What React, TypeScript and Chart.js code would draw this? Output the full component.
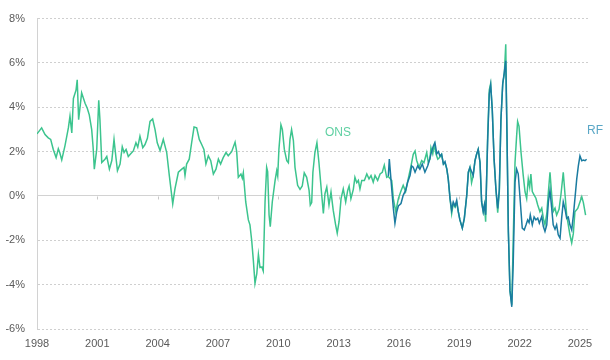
import React, { useEffect, useRef } from "react";
import { Chart, registerables } from "chart.js";

Chart.register(...registerables);

// ---- data ----
const tickYears = [1998, 2001, 2004, 2007, 2010, 2013, 2016, 2019, 2022, 2025];
const yTicks = [-6, -4, -2, 0, 2, 4, 6, 8];

const onsYears = [
  1998.0, 1998.23, 1998.4, 1998.56, 1998.68, 1998.81, 1998.95, 1999.06, 1999.13, 1999.23,
  1999.39, 1999.56, 1999.64, 1999.73, 1999.81, 1999.94, 2000.0, 2000.07, 2000.22, 2000.39,
  2000.5, 2000.6, 2000.72, 2000.79, 2000.85, 2000.97, 2001.07, 2001.13, 2001.22, 2001.38,
  2001.47, 2001.6, 2001.72, 2001.83, 2001.93, 2002.0, 2002.13, 2002.24, 2002.33, 2002.43,
  2002.54, 2002.66, 2002.79, 2002.92, 2003.01, 2003.12, 2003.26, 2003.37, 2003.49, 2003.62,
  2003.75, 2003.87, 2003.98, 2004.12, 2004.28, 2004.45, 2004.58, 2004.75, 2004.86, 2005.03,
  2005.2, 2005.31, 2005.36, 2005.44, 2005.57, 2005.69, 2005.81, 2005.94, 2006.07, 2006.19,
  2006.3, 2006.4, 2006.52, 2006.64, 2006.77, 2006.9, 2007.02, 2007.13, 2007.26, 2007.4,
  2007.51, 2007.68, 2007.85, 2007.93, 2008.01, 2008.14, 2008.21, 2008.26, 2008.38, 2008.51,
  2008.59, 2008.68, 2008.76, 2008.84, 2008.93, 2009.01, 2009.09, 2009.18, 2009.25, 2009.34,
  2009.42, 2009.47, 2009.54, 2009.6, 2009.7, 2009.84, 2009.92, 2009.97, 2010.03, 2010.13,
  2010.2, 2010.3, 2010.42, 2010.5, 2010.58, 2010.66, 2010.75, 2010.83, 2010.96, 2011.08,
  2011.19, 2011.29, 2011.41, 2011.53, 2011.59, 2011.66, 2011.72, 2011.82, 2011.92, 2012.02,
  2012.16, 2012.24, 2012.32, 2012.41, 2012.52, 2012.62, 2012.73, 2012.85, 2012.93, 2013.02,
  2013.12, 2013.23, 2013.35, 2013.45, 2013.52, 2013.61, 2013.73, 2013.81, 2013.9, 2013.98,
  2014.06, 2014.15, 2014.28, 2014.4, 2014.51, 2014.61, 2014.72, 2014.81, 2014.94, 2015.06,
  2015.17, 2015.27, 2015.39, 2015.47, 2015.64, 2015.72, 2015.84, 2015.97, 2016.09, 2016.21,
  2016.33, 2016.46, 2016.6, 2016.71, 2016.8, 2016.88, 2017.0, 2017.13, 2017.24, 2017.38,
  2017.46, 2017.54, 2017.59, 2017.68, 2017.76, 2017.84, 2017.93, 2018.03, 2018.12, 2018.21,
  2018.29, 2018.38, 2018.45, 2018.54, 2018.62, 2018.7, 2018.79, 2018.87, 2018.95, 2019.03,
  2019.15, 2019.25, 2019.37, 2019.45, 2019.53, 2019.61, 2019.69, 2019.78, 2019.86, 2019.94,
  2020.03, 2020.11, 2020.19, 2020.25, 2020.31, 2020.41, 2020.49, 2020.56, 2020.64, 2020.73,
  2020.82, 2020.91, 2020.99, 2021.07, 2021.16, 2021.24, 2021.31, 2021.37, 2021.44, 2021.52,
  2021.61, 2021.68, 2021.77, 2021.85, 2021.9, 2021.97, 2022.07, 2022.18, 2022.27, 2022.35,
  2022.43, 2022.5, 2022.56, 2022.63, 2022.73, 2022.81, 2022.9, 2023.01, 2023.1, 2023.18,
  2023.26, 2023.35, 2023.43, 2023.51, 2023.59, 2023.67, 2023.76, 2023.84, 2023.96, 2024.06,
  2024.17, 2024.26, 2024.34, 2024.42, 2024.5, 2024.59, 2024.67, 2024.75, 2024.89, 2025.0,
  2025.09, 2025.17, 2025.28,
];
const onsValues = [
  2.8, 3.07, 2.77, 2.62, 2.55, 2.1, 1.73, 2.13, 1.96, 1.63,
  2.26, 3.07, 3.6, 2.84, 4.4, 4.77, 5.24, 3.44, 4.65, 4.18,
  3.96, 3.66, 2.99, 2.2, 1.21, 2.1, 4.32, 3.44, 1.51, 1.66,
  1.78, 1.21, 1.6, 2.55, 1.7, 1.14, 1.44, 2.22, 1.96, 2.1,
  1.78, 1.9, 2.03, 2.4, 2.2, 2.7, 2.18, 2.32, 2.6, 3.36,
  3.47, 2.99, 2.4, 2.05, 2.55, 1.96, 0.92, -0.36, 0.32, 1.07,
  1.21, 1.29, 0.92, 1.44, 1.66, 2.4, 3.11, 3.07, 2.55, 2.32,
  2.1, 1.44, 1.81, 1.59, 0.99, 1.21, 1.66, 1.44, 1.73, 1.96,
  1.81, 2.0, 2.43, 2.0, 0.84, 0.99, 0.8, 1.04, -0.27, -1.08,
  -1.3, -2.04, -2.93, -3.94, -3.5, -2.64, -3.23, -3.2, -3.38, -0.27,
  1.29, 1.1, -0.86, -1.38, -0.27, 0.7, 1.14, 0.9, 2.1, 3.21,
  3.0, 2.1, 1.59, 1.5, 2.55, 2.99, 2.5, 1.29, 0.48, 0.3,
  0.45, 1.04, 0.84, 0.25, -0.41, -0.3, 1.07, 1.96, 2.4, 1.51,
  0.03, -0.79, 0.1, 0.4, -0.41, 0.18, -0.64, -1.3, -1.68, -1.16,
  -0.12, 0.32, -0.27, 0.25, 0.45, -0.12, 0.3, 0.84, 0.6, 0.7,
  0.32, 0.7, 0.7, 0.99, 0.77, 0.92, 0.62, 0.92, 0.7, 0.99,
  1.07, 1.39, 0.84, 0.88, 0.7, -0.12, -0.71, -0.12, 0.2, 0.48,
  0.2, 0.77, 1.36, 1.88, 2.03, 1.6, 1.29, 1.6, 1.5, 1.96,
  1.5, 1.66, 2.18, 1.9, 2.32, 1.9, 1.66, 1.75, 1.88, 1.44,
  1.5, 1.21, 0.77, -0.12, -0.8, -0.35, -0.5, -0.3, -0.71, -1.08,
  -1.45, -1.01, 0.03, 1.07, 1.29, 0.6, 0.92, 1.59, 1.88, 2.1,
  1.51, -0.27, -0.71, -0.4, -1.16, 2.7, 4.77, 5.07, 3.88, 1.66,
  0.32, -0.75, 0.2, 3.44, 5.07, 5.51, 6.84, 2.84, -1.6, -4.27,
  -4.9, -2.0, 1.5, 2.7, 3.36, 3.14, 1.96, 0.92, 0.18, -0.12,
  0.77, 0.4, 0.99, 0.2, 0.03, -0.1, -0.41, -0.71, -0.55, -1.01,
  -1.3, -0.8, 0.18, 1.07, 0.1, -0.71, -0.55, -0.86, -0.6, 0.1,
  1.07, 0.03, -0.86, -1.3, -1.75, -2.12, -1.7, -0.71, -0.56, -0.27,
  -0.04, -0.3, -0.86,
];

const rfYears = [
  2015.47, 2015.52, 2015.64, 2015.72, 2015.8, 2015.89, 2015.97, 2016.1, 2016.21, 2016.33,
  2016.43, 2016.55, 2016.63, 2016.71, 2016.8, 2016.93, 2017.04, 2017.16, 2017.29, 2017.43,
  2017.54, 2017.59, 2017.71, 2017.79, 2017.88, 2017.96, 2018.04, 2018.12, 2018.21, 2018.29,
  2018.38, 2018.45, 2018.54, 2018.62, 2018.7, 2018.79, 2018.87, 2018.95, 2019.03, 2019.15,
  2019.25, 2019.37, 2019.45, 2019.53, 2019.61, 2019.69, 2019.78, 2019.86, 2019.94, 2020.03,
  2020.11, 2020.19, 2020.25, 2020.31, 2020.41, 2020.49, 2020.56, 2020.64, 2020.73, 2020.82,
  2020.91, 2020.99, 2021.07, 2021.16, 2021.24, 2021.31, 2021.37, 2021.44, 2021.52, 2021.61,
  2021.68, 2021.77, 2021.85, 2021.93, 2022.01, 2022.13, 2022.23, 2022.32, 2022.4, 2022.47,
  2022.53, 2022.63, 2022.72, 2022.81, 2022.9, 2022.98, 2023.1, 2023.18, 2023.26, 2023.35,
  2023.43, 2023.51, 2023.59, 2023.67, 2023.76, 2023.84, 2023.92, 2024.01, 2024.09, 2024.17,
  2024.26, 2024.34, 2024.42, 2024.5, 2024.59, 2024.67, 2024.75, 2024.84, 2024.92, 2025.0,
  2025.09, 2025.17, 2025.25, 2025.33,
];
const rfValues = [
  0.9, 1.66, 0.32, -0.56, -1.23, -0.71, -0.45, -0.34, 0.03, 0.25,
  0.62, 0.92, 1.36, 1.3, 1.07, 1.36, 1.21, 1.44, 1.07, 1.36,
  1.7, 1.9, 2.25, 2.4, 1.9, 2.0, 1.8, 1.88, 1.44, 1.55,
  1.21, 0.77, -0.12, -0.64, -0.27, -0.45, -0.19, -0.71, -1.08, -1.45,
  -1.01, 0.03, 1.07, 1.29, 1.1, 0.92, 1.59, 1.88, 2.1, 1.51,
  -0.27, -0.71, -0.4, -0.85, 2.5, 4.6, 5.0, 3.88, 1.66, 0.32,
  -0.56, 0.3, 3.44, 5.07, 5.6, 6.1, 2.84, -1.6, -4.27, -5.0,
  -3.08, 0.62, 1.21, 1.0, 0.03, -1.45, -1.53, -1.3, -1.08, -1.2,
  -0.86, -1.3, -0.95, -1.08, -1.0, -1.23, -0.93, -1.38, -1.6, -1.3,
  -0.27, 0.25, -0.5, -1.3, -1.5, -1.3, -1.75, -1.9, -1.0, -0.27,
  -0.6, -1.01, -0.95, -1.3, -1.53, -0.9, -0.12, 0.77, 1.36, 1.81,
  1.59, 1.62, 1.59, 1.66,
];

const seriesNames = ["ONS", "RF"];
const lineColors = ["#3cc48e", "#1a7ba0"];
const labelColors = ["#5fd0a2", "#5aa7c6"];
const labelAnchors = [
  { year: 2012.32, value: 2.84, align: "left" },
  { year: 2025.35, value: 2.93, align: "left" },
];

const FONT = "'Liberation Sans', Arial, sans-serif";

export default function App() {
  const ref = useRef<HTMLCanvasElement | null>(null);

  useEffect(() => {
    if (!ref.current) return;

    const overlay = {
      id: "overlay",
      beforeDatasetsDraw(chart: any) {
        const { ctx, scales } = chart;
        const x = scales.x;
        const y = scales.y;
        const y0 = Math.round(y.getPixelForValue(0)) + 0.5;
        ctx.save();
        ctx.strokeStyle = "#c8c8c8";
        ctx.lineWidth = 1;
        tickYears.forEach((t) => {
          const px = Math.round(x.getPixelForValue(t)) + 0.5;
          ctx.beginPath();
          ctx.moveTo(px, y0);
          ctx.lineTo(px, y0 + 3);
          ctx.stroke();
        });
        ctx.restore();
      },
      afterDatasetsDraw(chart: any) {
        const { ctx, scales } = chart;
        const x = scales.x;
        const y = scales.y;
        ctx.save();
        ctx.font = `12px ${FONT}`;
        ctx.textBaseline = "middle";
        seriesNames.forEach((name, i) => {
          const a = labelAnchors[i];
          ctx.fillStyle = labelColors[i];
          ctx.textAlign = a.align as CanvasTextAlign;
          ctx.fillText(name, x.getPixelForValue(a.year), y.getPixelForValue(a.value));
        });
        ctx.restore();
      },
    };

    const chart = new Chart(ref.current, {
      type: "line",
      data: {
        datasets: [
          {
            label: seriesNames[0],
            data: onsYears.map((yr, i) => ({ x: yr, y: onsValues[i] })),
            borderColor: lineColors[0],
            borderWidth: 1.5,
            pointRadius: 0,
            tension: 0,
            order: 1,
          },
          {
            label: seriesNames[1],
            data: rfYears.map((yr, i) => ({ x: yr, y: rfValues[i] })),
            borderColor: lineColors[1],
            borderWidth: 1.5,
            pointRadius: 0,
            tension: 0,
            order: 0,
          },
        ],
      },
      options: {
        responsive: false,
        animation: false,
        parsing: true,
        layout: { padding: { top: 6.4, right: 22, left: 0, bottom: 0 } },
        plugins: {
          legend: { display: false },
          tooltip: { enabled: false },
        },
        scales: {
          x: {
            type: "linear",
            min: 1998,
            max: 2025.4,
            afterBuildTicks: (s: any) => {
              s.ticks = tickYears.map((v) => ({ value: v }));
            },
            afterFit: (s: any) => {
              s.height = 31;
            },
            grid: { display: false, drawTicks: false },
            border: { display: false },
            ticks: {
              padding: 8,
              maxRotation: 0,
              autoSkip: false,
              color: "#5a5a5a",
              font: { family: FONT, size: 11 },
              callback: (v: any) => String(v),
            },
          },
          y: {
            min: -6,
            max: 8,
            afterBuildTicks: (s: any) => {
              s.ticks = yTicks.map((v) => ({ value: v }));
            },
            afterFit: (s: any) => {
              s.width = 37;
            },
            grid: {
              drawTicks: false,
              color: (c: any) => (c.tick && c.tick.value === 0 ? "#d2d2d2" : "#cfcfcf"),
              lineWidth: 1,
            },
            border: {
              display: true,
              color: "#d2d2d2",
              width: 1,
              dash: (c: any) => (c.tick && c.tick.value === 0 ? [] : [2, 2]),
            },
            ticks: {
              padding: 12,
              color: "#5a5a5a",
              font: { family: FONT, size: 11 },
              callback: (v: any) => `${v}%`,
            },
          },
        },
      },
      plugins: [overlay],
    } as any);

    return () => chart.destroy();
  }, []);

  return (
    <div style={{ position: "fixed", left: 0, top: 0, width: 610, height: 360, background: "#fff" }}>
      <canvas ref={ref} width={610} height={360} style={{ width: 610, height: 360 }} />
    </div>
  );
}
